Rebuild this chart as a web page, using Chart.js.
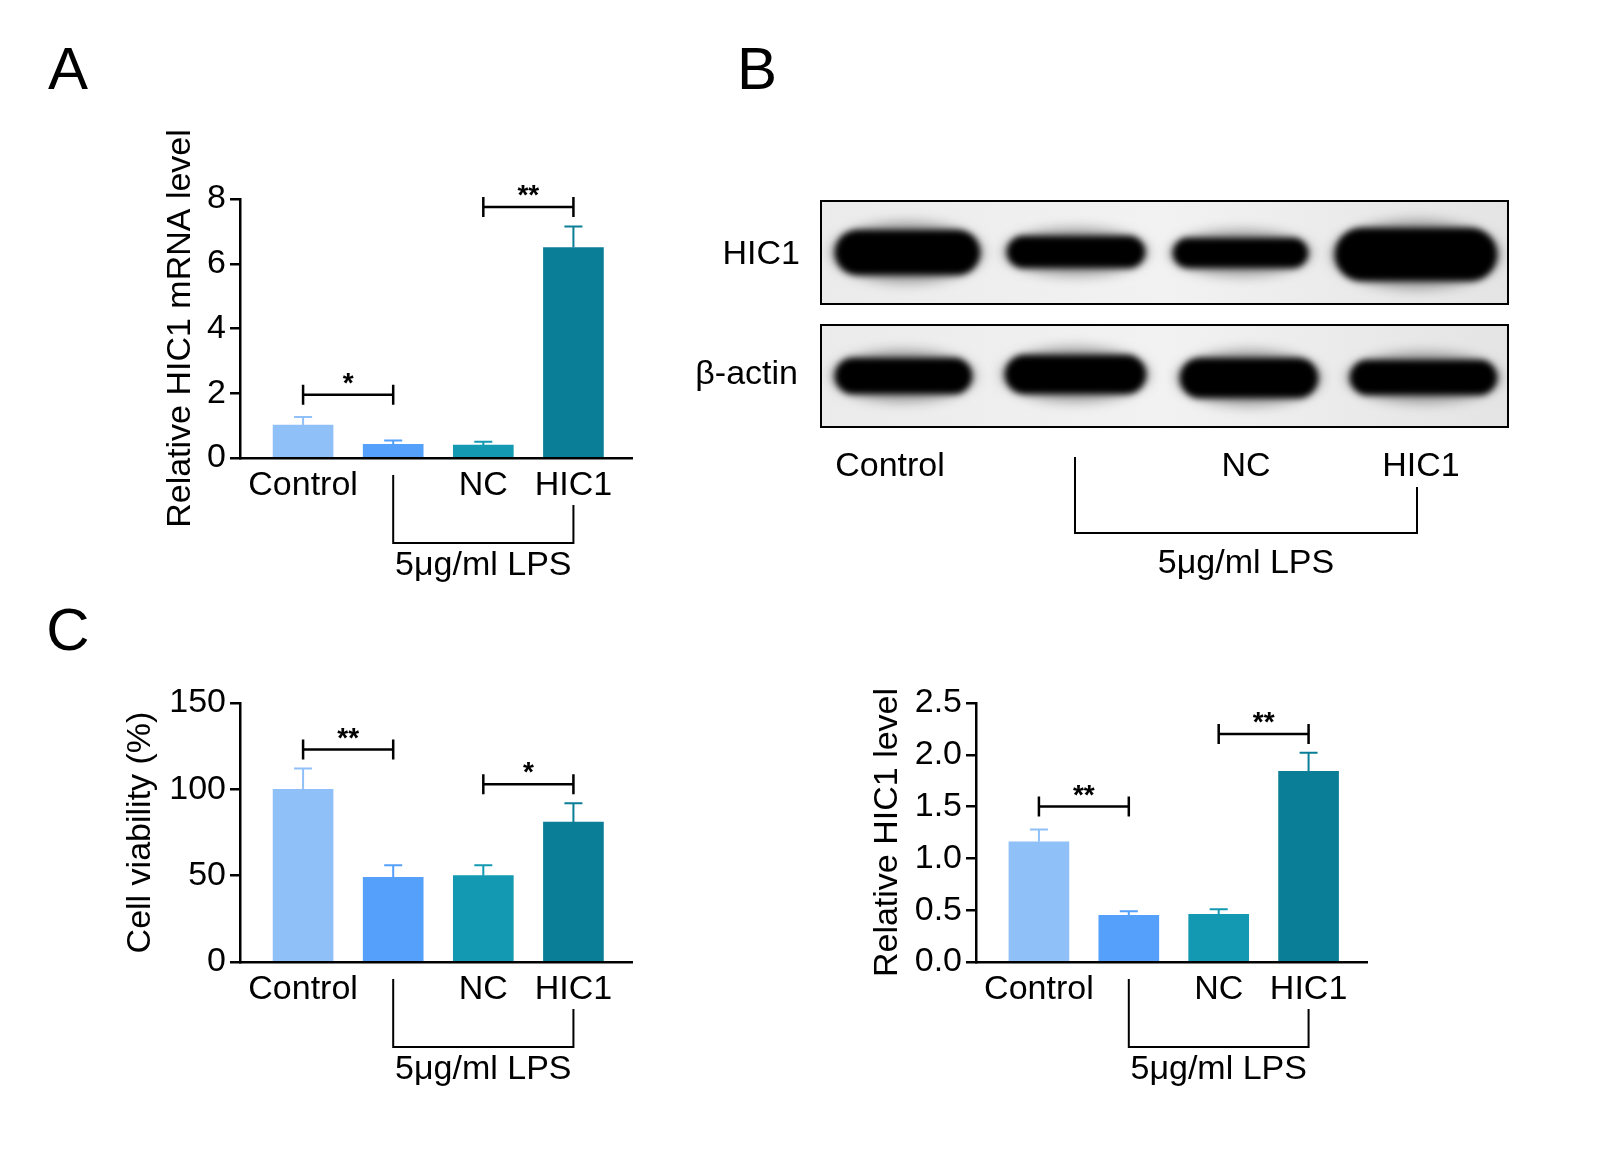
<!DOCTYPE html>
<html><head><meta charset="utf-8">
<script src="https://cdn.jsdelivr.net/npm/chart.js@4/dist/chart.umd.min.js"></script>
<style>
body{margin:0;background:#fff;width:1600px;height:1150px;position:relative;overflow:hidden;font-family:"Liberation Sans",Arial,sans-serif}
canvas.full{position:absolute;left:0;top:0}
</style></head><body>
<canvas id="blot" class="full" width="1600" height="1150"></canvas>
<canvas id="cA" class="full"></canvas>
<canvas id="cC1" class="full"></canvas>
<canvas id="cC2" class="full"></canvas>
<script>
const categories = ["Control", "", "NC", "HIC1"];
const colors = ["#90c0f8", "#55a0fa", "#1399b2", "#0a7e96"];
const mrnaValues = [1.02, 0.42, 0.40, 6.5];
const mrnaErrors = [0.25, 0.12, 0.10, 0.65];
const viabilityValues = [100, 49, 50, 81];
const viabilityErrors = [12, 7, 6, 11];
const proteinValues = [1.16, 0.45, 0.46, 1.84];
const proteinErrors = [0.12, 0.04, 0.05, 0.18];
const mrnaSig = [[0, 1, 1.95, "*"], [2, 3, 7.75, "**"]];
const viabilitySig = [[0, 1, 123, "**"], [2, 3, 103, "*"]];
const proteinSig = [[0, 1, 1.5, "**"], [2, 3, 2.2, "**"]];
const lpsLabel = "5μg/ml LPS";
const FONT = '"Liberation Sans", Arial, sans-serif';

function makeChart(id, vals, errs, sig, cfg) {
  const el = document.getElementById(id);
  el.width = 1600; el.height = 1150;
  const ann = {
    id: 'ann' + id,
    afterDatasetsDraw(chart) {
      const c = chart.ctx, xs = chart.scales.x, ys = chart.scales.y;
      c.save();
      vals.forEach((v, i) => {
        const x = xs.getPixelForValue(i), y0 = ys.getPixelForValue(v), y1 = ys.getPixelForValue(v + errs[i]);
        c.strokeStyle = colors[i]; c.lineWidth = 2;
        c.beginPath(); c.moveTo(x, y0); c.lineTo(x, y1); c.moveTo(x - 9, y1); c.lineTo(x + 9, y1); c.stroke();
      });
      c.strokeStyle = '#000'; c.fillStyle = '#000'; c.lineWidth = 2.5;
      sig.forEach(s => {
        const xa = xs.getPixelForValue(s[0]), xb = xs.getPixelForValue(s[1]), y = ys.getPixelForValue(s[2]);
        c.beginPath(); c.moveTo(xa, y - 10); c.lineTo(xa, y + 10); c.moveTo(xb, y - 10); c.lineTo(xb, y + 10);
        c.moveTo(xa, y); c.lineTo(xb, y); c.stroke();
        c.font = 'bold 28px ' + FONT; c.textAlign = 'center'; c.textBaseline = 'alphabetic';
        c.fillText(s[3], (xa + xb) / 2, y - 3);
      });
      const base = ys.getPixelForValue(0);
      c.font = '34px ' + FONT; c.textAlign = 'center'; c.textBaseline = 'middle';
      categories.forEach((t, i) => { if (t) c.fillText(t, xs.getPixelForValue(i), base + 28); });
      const x1 = xs.getPixelForValue(1), x3 = xs.getPixelForValue(3), x2 = (x1 + x3) / 2;
      c.lineWidth = 2;
      c.beginPath(); c.moveTo(x1, base + 17); c.lineTo(x1, base + 85); c.lineTo(x3, base + 85); c.lineTo(x3, base + 47); c.stroke();
      c.fillText(lpsLabel, x2, base + 108);
      c.restore();
    }
  };
  return new Chart(el, {
    type: 'bar',
    data: { datasets: [{ data: vals.map((v, i) => ({ x: i, y: v })), backgroundColor: colors, borderWidth: 0,
      barThickness: 60 }] },
    options: {
      responsive: false, animation: false, devicePixelRatio: 1,
      layout: { padding: cfg.pad },
      plugins: { legend: { display: false }, tooltip: { enabled: false } },
      scales: {
        x: { type: 'linear', offset: false, min: -0.7, max: 3.65, ticks: { display: false }, grid: { display: false, offset: false },
          border: { color: '#000', width: 2.5 }, afterFit(s) { s.height = 0; } },
        y: { min: 0, max: cfg.max, ticks: { stepSize: cfg.step, color: '#000', font: { size: 34, family: FONT }, padding: 4,
            callback: cfg.fmt },
          grid: { drawOnChartArea: false, drawTicks: true, tickLength: 10, color: '#000', lineWidth: 2.5 },
          border: { color: '#000', width: 2.5 },
          title: { display: true, text: cfg.title, color: '#000', font: { size: 34, family: FONT }, padding: 0 },
          afterFit(s) { s.width = cfg.yw; } }
      }
    },
    plugins: [ann]
  });
}
makeChart('cA', mrnaValues, mrnaErrors, mrnaSig, { pad: { left: 160, top: 199, right: 968, bottom: 692 }, yw: 80, max: 8, step: 2, title: 'Relative HIC1 mRNA level', fmt: v => v });
makeChart('cC1', viabilityValues, viabilityErrors, viabilitySig, { pad: { left: 120, top: 703, right: 968, bottom: 188 }, yw: 120, max: 150, step: 50, title: 'Cell viability (%)', fmt: v => v });
makeChart('cC2', proteinValues, proteinErrors, proteinSig, { pad: { left: 867, top: 703, right: 233, bottom: 188 }, yw: 109, max: 2.5, step: 0.5, title: 'Relative HIC1 level', fmt: v => v.toFixed(1) });

(function () {
  const c = document.getElementById('blot').getContext('2d');
  c.fillStyle = '#000'; c.textBaseline = 'middle';
  c.font = '60px ' + FONT; c.textAlign = 'center';
  c.fillText('A', 68, 72); c.fillText('B', 757, 72); c.fillText('C', 68, 633);
  function panel(y0, y1, bands) {
    const g = c.createLinearGradient(821, 0, 1508, 0);
    g.addColorStop(0, '#ebebeb'); g.addColorStop(0.5, '#f2f2f2'); g.addColorStop(1, '#e4e4e4');
    c.fillStyle = g; c.fillRect(821, y0, 687, y1 - y0);
    c.save(); c.beginPath(); c.rect(821, y0, 687, y1 - y0); c.clip();
    bands.forEach(b => {
      c.filter = 'blur(6px)'; c.fillStyle = 'rgba(60,60,60,0.45)';
      c.beginPath(); c.ellipse((b[0] + b[1]) / 2, (b[2] + b[3]) / 2, (b[1] - b[0]) / 2 + 4, (b[3] - b[2]) / 2 + 8, 0, 0, 7); c.fill();
      c.filter = 'blur(3px)'; c.fillStyle = '#000';
      const r = (b[3] - b[2]) / 2;
      c.beginPath(); c.roundRect(b[0], b[2], b[1] - b[0], b[3] - b[2], r); c.fill();
    });
    c.restore(); c.filter = 'none';
    c.strokeStyle = '#000'; c.lineWidth = 2; c.strokeRect(821, y0, 687, y1 - y0);
  }
  panel(201, 304, [[835, 980, 230, 275], [1007, 1145, 236, 268], [1173, 1308, 238, 268], [1335, 1497, 228, 281]]);
  panel(325, 427, [[835, 972, 358, 394], [1005, 1146, 355, 394], [1180, 1318, 358, 398], [1350, 1497, 360, 395]]);
  c.fillStyle = '#000'; c.font = '34px ' + FONT; c.textAlign = 'right';
  c.fillText('HIC1', 800, 255); c.fillText('β-actin', 798, 375);
  c.textAlign = 'center';
  c.fillText('Control', 890, 467); c.fillText('NC', 1246, 467); c.fillText('HIC1', 1421, 467);
  c.lineWidth = 2; c.strokeStyle = '#000';
  c.beginPath(); c.moveTo(1075, 457); c.lineTo(1075, 533); c.lineTo(1417, 533); c.lineTo(1417, 487); c.stroke();
  c.fillText('5μg/ml LPS', 1246, 564);
})();
</script>
</body></html>
